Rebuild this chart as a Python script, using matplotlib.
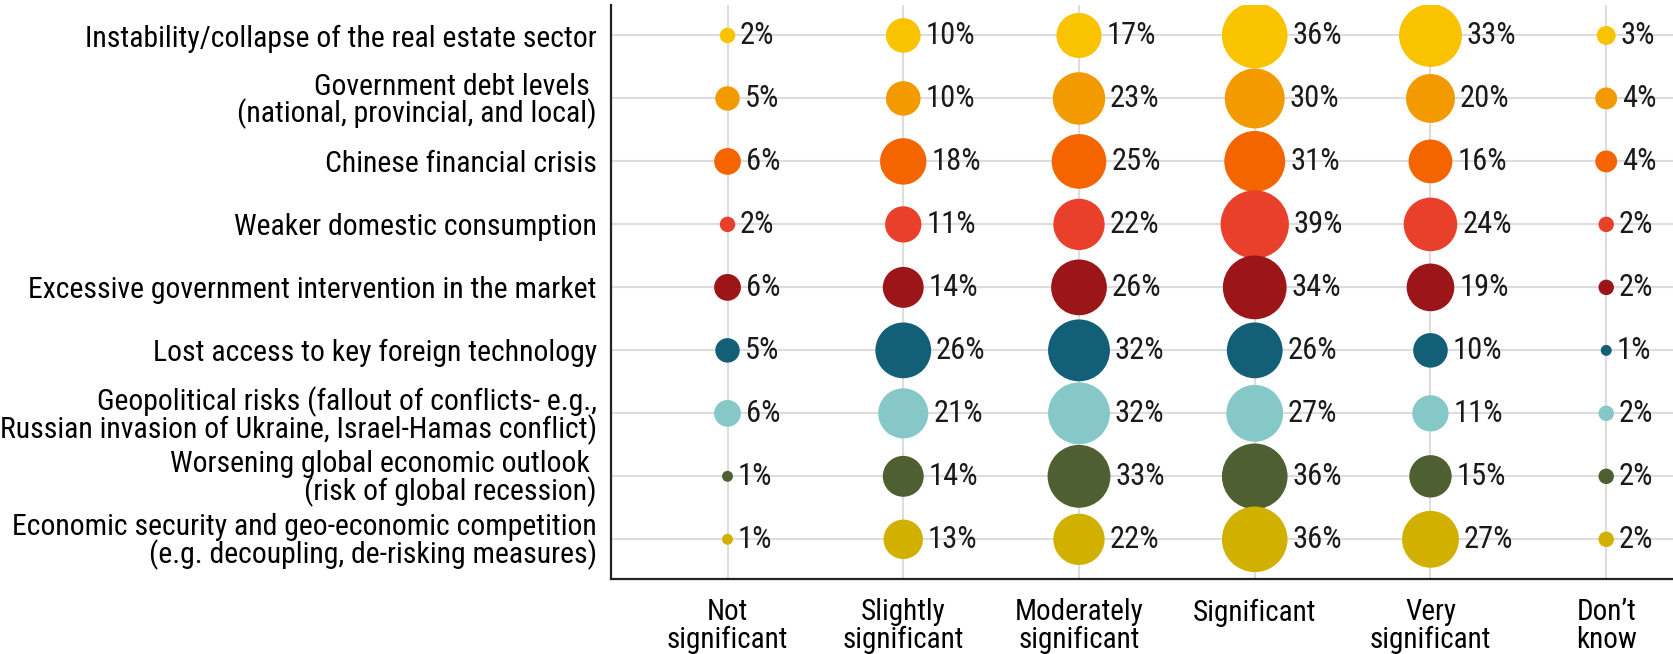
import matplotlib
matplotlib.use("Agg")
import matplotlib.pyplot as plt
from matplotlib import font_manager
import numpy as np

available = {f.name for f in font_manager.fontManager.ttflist}
condensed = None
for name in ["Roboto Condensed", "Liberation Sans Narrow", "Open Sans Condensed",
             "Noto Sans Condensed", "DejaVu Sans Condensed"]:
    if name in available:
        condensed = name
        break
if condensed:
    plt.rcParams['font.family'] = [condensed, 'DejaVu Sans']
    FS_Y, FS_P, FS_X, LS_Y, LS_X = 21.4, 22, 21, 0.9, 0.98
else:
    plt.rcParams['font.family'] = ['DejaVu Sans']
    FS_Y, FS_P, FS_X, LS_Y, LS_X = 16.5, 17, 17, 1.05, 1.1

categories = [
    "Instability/collapse of the real estate sector",
    "Government debt levels \n(national, provincial, and local)",
    "Chinese financial crisis",
    "Weaker domestic consumption",
    "Excessive government intervention in the market",
    "Lost access to key foreign technology",
    "Geopolitical risks (fallout of conflicts- e.g.,\nRussian invasion of Ukraine, Israel-Hamas conflict)",
    "Worsening global economic outlook \n(risk of global recession)",
    "Economic security and geo-economic competition\n(e.g. decoupling, de-risking measures)",
]
levels = ["Not\nsignificant", "Slightly\nsignificant", "Moderately\nsignificant",
          "Significant", "Very\nsignificant", "Don\u2019t\nknow"]

real_estate = [2, 10, 17, 36, 33, 3]
gov_debt = [5, 10, 23, 30, 20, 4]
fin_crisis = [6, 18, 25, 31, 16, 4]
consumption = [2, 11, 22, 39, 24, 2]
intervention = [6, 14, 26, 34, 19, 2]
technology = [5, 26, 32, 26, 10, 1]
geopolitical = [6, 21, 32, 27, 11, 2]
global_outlook = [1, 14, 33, 36, 15, 2]
econ_security = [1, 13, 22, 36, 27, 2]

values = [real_estate, gov_debt, fin_crisis, consumption, intervention,
          technology, geopolitical, global_outlook, econ_security]
colors = ["#F9C300", "#F29A00", "#F46500", "#E8402A", "#9B1519",
          "#135F77", "#86C8C8", "#4E6032", "#D2B000"]

fig = plt.figure(figsize=(16.73, 6.54), dpi=100)
ax = fig.add_axes([0.365, 0.1147, 0.635, 0.8773])

SCALE = 62.0
for i, (row, col) in enumerate(zip(values, colors)):
    xs = np.arange(len(row))
    ys = np.full(len(row), i)
    sizes = np.array(row) * SCALE
    ax.scatter(xs, ys, s=sizes, color=col, edgecolor='none', zorder=3)
    for x, v, s in zip(xs, row, sizes):
        r = np.sqrt(s) / 2
        ax.annotate(f"{v}%", (x, i), xytext=(r + 3.5, 0), textcoords='offset points',
                    ha='left', va='center', fontsize=FS_P, color='#1a1a1a', zorder=4)

ax.set_xlim(-0.665, 5.38)
ax.set_ylim(8.63, -0.48)
ax.set_xticks(range(len(levels)))
ax.set_xticklabels(levels, fontsize=FS_X, linespacing=LS_X)
ax.set_yticks(range(len(categories)))
ax.set_yticklabels(categories, fontsize=FS_Y, linespacing=LS_Y)
ax.tick_params(axis='both', length=0)
ax.tick_params(axis='x', pad=14)
ax.tick_params(axis='y', pad=10)
ax.grid(True, color='#DDDDDD', linewidth=1.5, zorder=0)
ax.set_axisbelow(True)
for s in ['top', 'right']:
    ax.spines[s].set_visible(False)
for s in ['left', 'bottom']:
    ax.spines[s].set_linewidth(1.6)
    ax.spines[s].set_color('#222222')

fig.savefig("out.png", dpi=100)
